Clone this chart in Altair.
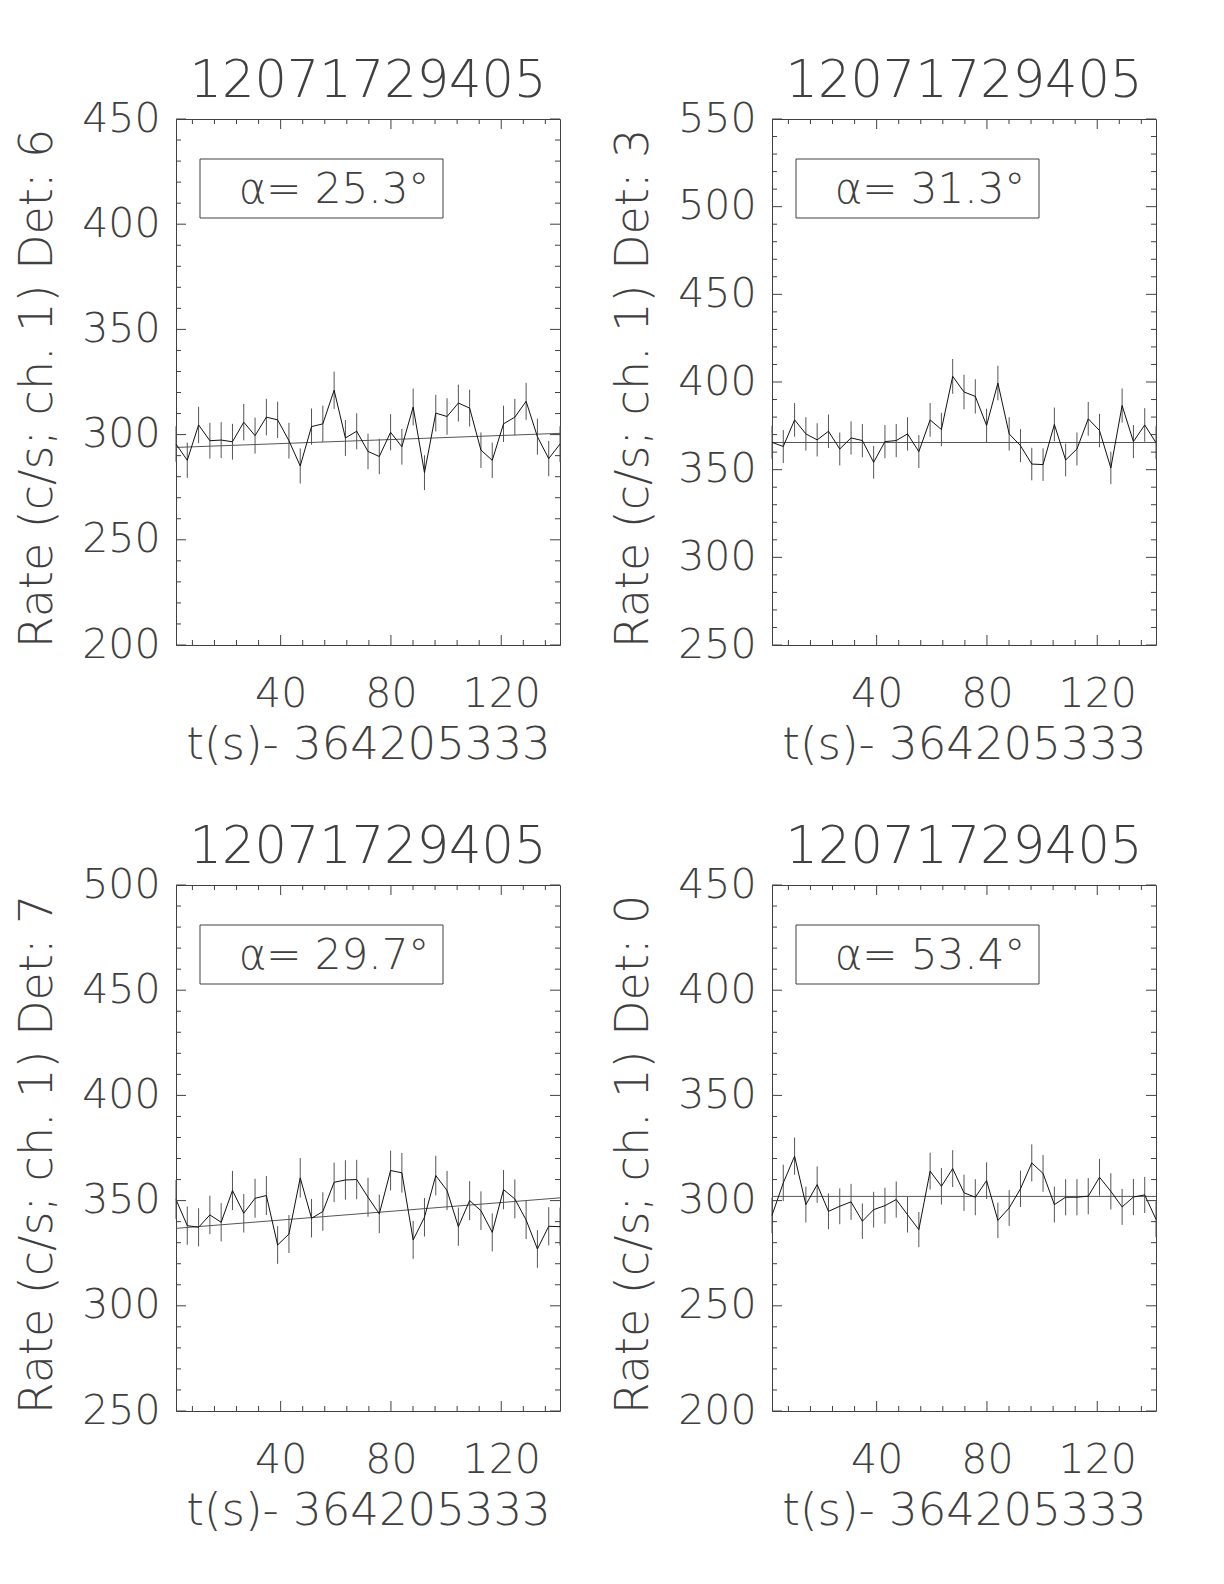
import altair as alt
import pandas as pd

# ---------------- data ----------------
times = [2.05, 6.14, 10.24, 14.34, 18.43, 22.53, 26.62, 30.72, 34.82, 38.91,
         43.01, 47.10, 51.20, 55.30, 59.39, 63.49, 67.58, 71.68, 75.78, 79.87,
         83.97, 88.06, 92.16, 96.26, 100.35, 104.45, 108.54, 112.64, 116.74, 120.83,
         124.93, 129.02, 133.12, 137.22, 141.31]

rate_det6 = [295.5, 287.8, 304.6, 297.1, 297.4, 296.6, 305.9, 299.5, 308.3, 307.0,
             297.1, 285.1, 303.8, 305.1, 321.1, 298.4, 301.6, 292.0, 289.6, 301.1,
             294.2, 313.1, 281.9, 310.2, 308.6, 315.0, 312.6, 292.6, 287.8, 305.1,
             308.3, 315.8, 299.0, 288.6, 295.5]
rate_det3 = [365.6, 363.2, 378.4, 370.4, 367.0, 371.9, 361.8, 368.1, 366.6, 354.2,
             366.0, 366.6, 370.4, 360.3, 378.4, 372.9, 403.2, 394.3, 391.8, 375.2,
             399.4, 370.4, 363.7, 353.2, 352.9, 375.8, 355.5, 361.8, 379.0, 372.3,
             351.0, 386.6, 366.0, 375.5, 365.4]
rate_det7 = [350.5, 338.1, 337.3, 343.2, 339.7, 354.8, 344.0, 351.1, 352.4, 328.9,
             334.1, 360.8, 341.6, 344.8, 358.7, 359.8, 360.0, 351.6, 343.7, 364.3,
             363.2, 331.3, 342.1, 361.9, 354.8, 337.6, 350.0, 345.2, 334.9, 355.2,
             350.8, 340.8, 327.0, 337.8, 337.6]
rate_det0 = [293.0, 308.4, 321.1, 298.1, 307.6, 294.9, 297.3, 299.4, 290.2, 295.7,
             297.6, 300.5, 293.3, 286.2, 314.0, 306.8, 315.2, 303.7, 301.6, 309.5,
             290.6, 296.5, 305.6, 317.9, 312.9, 298.1, 301.6, 301.6, 302.1, 311.1,
             304.4, 297.0, 301.7, 302.7, 291.1]

fit_det6 = [293.9, 300.6]
fit_det3 = [365.5, 365.5]
fit_det7 = [336.8, 351.3]
fit_det0 = [302.0, 302.0]

detectors = ["6", "3", "7", "0"]
alphas = ["25.3", "31.3", "29.7", "53.4"]
y_ranges = [[200, 450], [250, 550], [250, 500], [200, 450]]
rates = [rate_det6, rate_det3, rate_det7, rate_det0]
fits = [fit_det6, fit_det3, fit_det7, fit_det0]

title_text = "12071729405"
x_title = "t(s)- 364205333"
x_label_values = [40, 80, 120]

# ---------------- styling ----------------
W, H = 384, 526
FONT = "DejaVu Sans"
INK = "#404040"
WEIGHT = 200


def panel(i):
    lo_y, hi_y = y_ranges[i]
    df = pd.DataFrame({"t": times, "rate": rates[i]})
    fit_df = pd.DataFrame({"t": [times[0], times[-1]], "fit": fits[i]})

    xs = alt.Scale(domain=[times[0], times[-1]], nice=False, zero=False)
    ys = alt.Scale(domain=[lo_y, hi_y], nice=False, zero=False)

    xaxis = alt.Axis(values=x_label_values, ticks=False, domain=False, grid=False,
                     labelFontSize=41, labelFont=FONT, labelColor=INK,
                     labelFontWeight=WEIGHT, labelPadding=29,
                     title=x_title, titleFontSize=45, titleFont=FONT,
                     titleColor=INK, titleFontWeight=WEIGHT, titlePadding=8)
    yaxis = alt.Axis(values=list(range(lo_y, hi_y + 1, 50)), ticks=False,
                     domain=False, grid=False,
                     labelFontSize=41, labelFont=FONT, labelColor=INK,
                     labelFontWeight=WEIGHT, labelPadding=16,
                     title=f"Rate (c/s; ch. 1) Det: {detectors[i]}",
                     titleFontSize=46, titleFont=FONT, titleColor=INK,
                     titleFontWeight=WEIGHT, titlePadding=20, titleY=H / 2 + 6)

    def X(f):
        return alt.X(f, scale=xs, axis=xaxis)

    def Y(f):
        return alt.Y(f, scale=ys, axis=yaxis)

    base = alt.Chart(df)
    err = base.transform_calculate(
        lo="datum.rate - sqrt(datum.rate / 4.096)",
        hi="datum.rate + sqrt(datum.rate / 4.096)",
    ).mark_rule(color="#555555", strokeWidth=1).encode(
        x=X("t:Q"), y=Y("lo:Q"), y2="hi:Q")
    line = base.mark_line(color="#111111", strokeWidth=1).encode(
        x=X("t:Q"), y=Y("rate:Q"))
    fit = alt.Chart(fit_df).mark_line(color="#555555", strokeWidth=1).encode(
        x=X("t:Q"), y=Y("fit:Q"))

    lab_df = pd.DataFrame({"label": [f"α= {alphas[i]}°"], "title": [title_text]})
    box = alt.Chart(lab_df).mark_rect(fillOpacity=0, stroke=INK, strokeWidth=1).encode(
        x=alt.value(24), x2=alt.value(267), y=alt.value(40), y2=alt.value(99))
    txt = alt.Chart(lab_df).mark_text(fontSize=42, font=FONT, fontWeight=WEIGHT,
                                      color=INK, align="center",
                                      baseline="alphabetic").encode(
        x=alt.value(158), y=alt.value(84), text="label:N")
    ttl = alt.Chart(lab_df).mark_text(fontSize=51, font=FONT, fontWeight=WEIGHT,
                                      color=INK, align="center",
                                      baseline="alphabetic").encode(
        x=alt.value(W / 2), y=alt.value(-22), text="title:N")

    y_minor = [v for v in range(lo_y, hi_y + 1, 10) if v % 50 != 0]
    y_major = list(range(lo_y, hi_y + 1, 50))
    x_minor = [v for v in range(8, 141, 8) if v not in x_label_values]

    def yt(values, x0, x1):
        return alt.Chart(pd.DataFrame({"v": values})).mark_rule(
            color=INK, strokeWidth=1).encode(y=Y("v:Q"), x=alt.value(x0), x2=alt.value(x1))

    def xt(values, y0, y1):
        return alt.Chart(pd.DataFrame({"v": values})).mark_rule(
            color=INK, strokeWidth=1).encode(x=X("v:Q"), y=alt.value(y0), y2=alt.value(y1))

    ticks = [
        yt(y_minor, 0, 5), yt(y_major, 0, 10),
        yt(y_minor, W - 5, W), yt(y_major, W - 10, W),
        xt(x_minor, H - 5, H), xt(x_label_values, H - 10, H),
        xt(x_minor, 0, 5), xt(x_label_values, 0, 10),
    ]

    return alt.layer(err, fit, line, box, txt, ttl, *ticks).properties(
        width=W, height=H)


chart = alt.concat(*[panel(i) for i in range(4)], columns=2,
                   spacing={"row": 240, "column": 212}).properties(
    bounds="flush",
    padding={"left": 6, "top": 47, "right": 5, "bottom": 5},
).configure(
    background="white",
    view=alt.ViewConfig(stroke=INK, strokeWidth=1),
)

chart.save("out.html", embed_options={"renderer": "svg", "actions": False})
